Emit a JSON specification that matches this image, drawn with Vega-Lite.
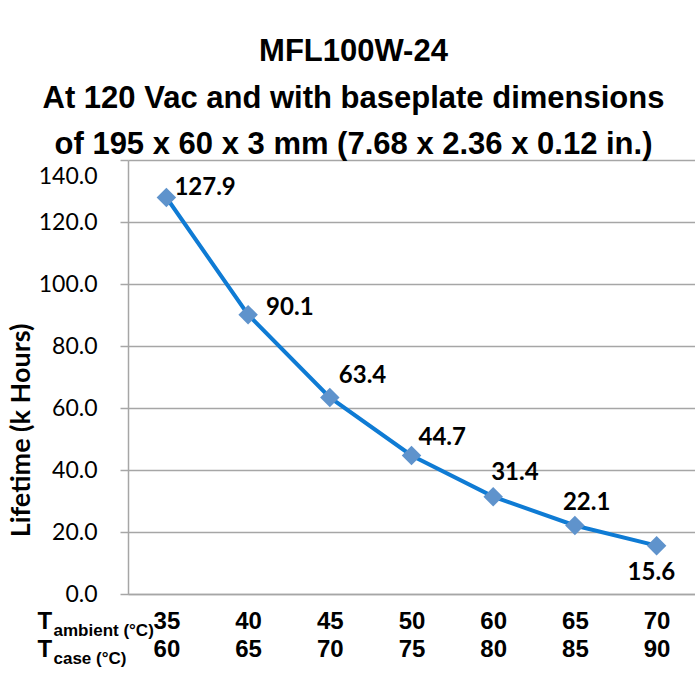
{
  "$schema": "https://vega.github.io/schema/vega-lite/v6.json",
  "autosize": {"type": "none"},
  "padding": {"left": 128, "top": 160, "right": 0, "bottom": 87},
  "width": 567,
  "height": 434,
  "background": "white",
  "config": {"view": {"stroke": null}},
  "title": {
    "text": ["MFL100W-24", "At 120 Vac and with baseplate dimensions", "of 195 x 60 x 3 mm (7.68 x 2.36 x 0.12 in.)"],
    "font": "Liberation Sans",
    "fontSize": 31,
    "fontWeight": "bold",
    "color": "#000000",
    "lineHeight": 46.5,
    "anchor": "middle",
    "frame": "group",
    "baseline": "bottom",
    "dx": -58,
    "dy": 33,
    "offset": 0
  },
  "data": {
    "values": [
      {"ambient": 35, "case": 60, "lifetime": 127.9},
      {"ambient": 40, "case": 65, "lifetime": 90.1},
      {"ambient": 45, "case": 70, "lifetime": 63.4},
      {"ambient": 50, "case": 75, "lifetime": 44.7},
      {"ambient": 60, "case": 80, "lifetime": 31.4},
      {"ambient": 65, "case": 85, "lifetime": 22.1},
      {"ambient": 70, "case": 90, "lifetime": 15.6}
    ]
  },
  "layer": [
    {
      "encoding": {
        "x": {
          "field": "ambient",
          "type": "ordinal",
          "scale": {"type": "point", "padding": 0.47},
          "axis": {
            "orient": "bottom",
            "labelAngle": 0,
            "labelFont": "Liberation Sans",
            "labelFontSize": 24,
            "labelFontWeight": "bold",
            "labelColor": "#000000",
            "labelBaseline": "alphabetic",
            "labelPadding": 34,
            "ticks": false,
            "tickSize": 0,
            "grid": false,
            "domainColor": "#a6a6a6",
            "domainWidth": 1.5,
            "title": ["T", "T"],
            "titleFont": "Liberation Sans",
            "titleFontSize": 24,
            "titleFontWeight": "bold",
            "titleColor": "#000000",
            "titleAlign": "left",
            "titleBaseline": "alphabetic",
            "titleAngle": 0,
            "titleLineHeight": 28,
            "titleX": -91,
            "titleY": 34
          }
        },
        "y": {
          "field": "lifetime",
          "type": "quantitative",
          "scale": {"domain": [0, 140], "nice": false, "zero": true},
          "axis": {
            "values": [0, 20, 40, 60, 80, 100, 120, 140],
            "format": ".1f",
            "labelFont": "Lato",
            "labelFontSize": 23,
            "labelColor": "#000000",
            "labelPadding": 23,
            "labelBaseline": {"condition": {"test": "datum.value == 140", "value": "top"}, "value": "middle"},
            "labelOffset": {"condition": {"test": "datum.value == 140", "value": 5}, "value": 0},
            "tickSize": 8,
            "tickColor": "#a6a6a6",
            "tickWidth": 1.5,
            "domainColor": "#a6a6a6",
            "domainWidth": 1.5,
            "grid": true,
            "gridColor": "#a6a6a6",
            "gridWidth": 1.5,
            "title": "Lifetime (k Hours)",
            "titleFont": "Lato",
            "titleFontSize": 27,
            "titleFontWeight": "bold",
            "titleColor": "#000000",
            "titleAngle": -90,
            "titleAlign": "center",
            "titleBaseline": "alphabetic",
            "titleX": -99,
            "titleY": 270
          }
        }
      },
      "layer": [
        {"mark": {"type": "line", "color": "#0f7bd4", "strokeWidth": 4}},
        {"mark": {"type": "point", "shape": "diamond", "filled": true, "size": 380, "color": "#5f93cc", "opacity": 1}},
        {"transform": [{"filter": "datum.ambient == 35"}], "mark": {"type": "text", "align": "left", "baseline": "middle", "dx": 8, "dy": -10, "font": "Lato", "fontSize": 24, "fontWeight": "bold", "color": "#000000"}, "encoding": {"text": {"field": "lifetime", "type": "quantitative", "format": ".1f"}}},
        {"transform": [{"filter": "datum.ambient == 40"}], "mark": {"type": "text", "align": "left", "baseline": "middle", "dx": 18, "dy": -7, "font": "Lato", "fontSize": 24, "fontWeight": "bold", "color": "#000000"}, "encoding": {"text": {"field": "lifetime", "type": "quantitative", "format": ".1f"}}},
        {"transform": [{"filter": "datum.ambient == 45"}], "mark": {"type": "text", "align": "left", "baseline": "middle", "dx": 9, "dy": -21, "font": "Lato", "fontSize": 24, "fontWeight": "bold", "color": "#000000"}, "encoding": {"text": {"field": "lifetime", "type": "quantitative", "format": ".1f"}}},
        {"transform": [{"filter": "datum.ambient == 50"}], "mark": {"type": "text", "align": "left", "baseline": "middle", "dx": 7, "dy": -17, "font": "Lato", "fontSize": 24, "fontWeight": "bold", "color": "#000000"}, "encoding": {"text": {"field": "lifetime", "type": "quantitative", "format": ".1f"}}},
        {"transform": [{"filter": "datum.ambient == 60"}], "mark": {"type": "text", "align": "left", "baseline": "middle", "dx": -2, "dy": -24, "font": "Lato", "fontSize": 24, "fontWeight": "bold", "color": "#000000"}, "encoding": {"text": {"field": "lifetime", "type": "quantitative", "format": ".1f"}}},
        {"transform": [{"filter": "datum.ambient == 65"}], "mark": {"type": "text", "align": "left", "baseline": "middle", "dx": -12, "dy": -22, "font": "Lato", "fontSize": 24, "fontWeight": "bold", "color": "#000000"}, "encoding": {"text": {"field": "lifetime", "type": "quantitative", "format": ".1f"}}},
        {"transform": [{"filter": "datum.ambient == 70"}], "mark": {"type": "text", "align": "left", "baseline": "middle", "dx": -29, "dy": 27, "font": "Lato", "fontSize": 24, "fontWeight": "bold", "color": "#000000"}, "encoding": {"text": {"field": "lifetime", "type": "quantitative", "format": ".1f"}}}
      ]
    },
    {
      "mark": {"type": "point", "opacity": 0},
      "encoding": {
        "x": {
          "field": "case",
          "type": "ordinal",
          "scale": {"type": "point", "padding": 0.47},
          "axis": {
            "orient": "bottom",
            "labelAngle": 0,
            "labelFont": "Liberation Sans",
            "labelFontSize": 24,
            "labelFontWeight": "bold",
            "labelColor": "#000000",
            "labelBaseline": "alphabetic",
            "labelPadding": 62,
            "ticks": false,
            "tickSize": 0,
            "domain": false,
            "grid": false,
            "title": ["ambient (°C)", "case (°C)"],
            "titleFont": "Liberation Sans",
            "titleFontSize": 17,
            "titleFontWeight": "bold",
            "titleColor": "#000000",
            "titleAlign": "left",
            "titleBaseline": "alphabetic",
            "titleAngle": 0,
            "titleLineHeight": 28,
            "titleX": -75,
            "titleY": 41
          }
        }
      }
    }
  ],
  "resolve": {"scale": {"x": "independent"}, "axis": {"x": "independent"}}
}
